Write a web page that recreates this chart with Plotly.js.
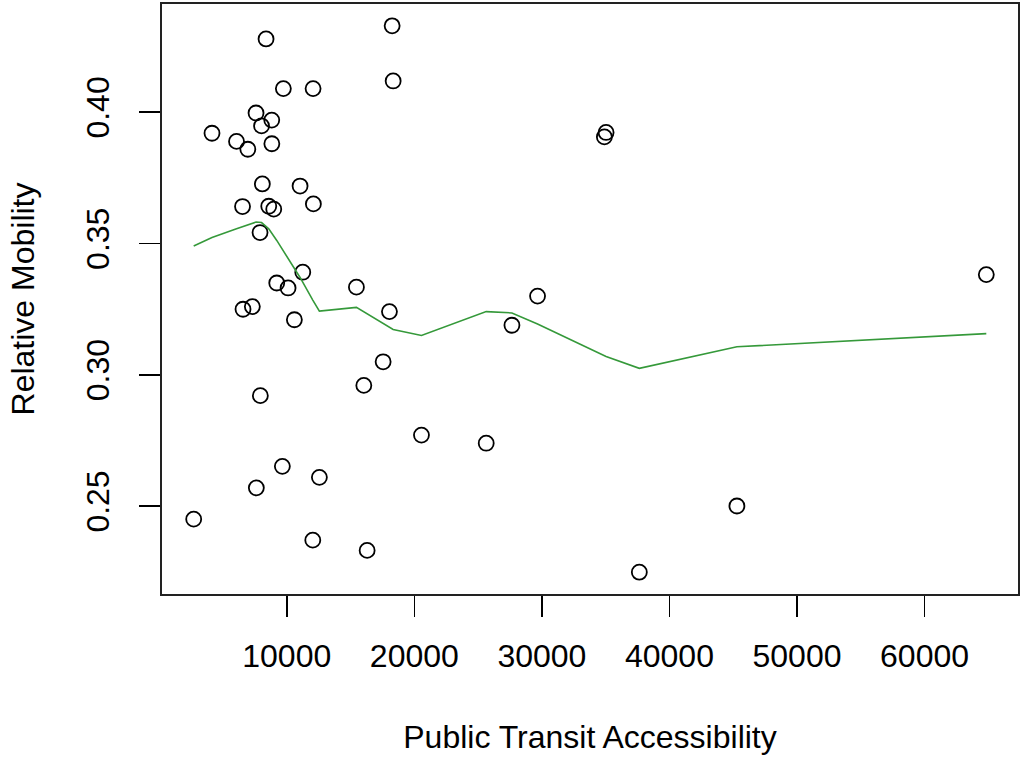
<!DOCTYPE html>
<html>
<head>
<meta charset="utf-8">
<script src="https://cdn.plot.ly/plotly-3.0.1.min.js"></script>
<style>html,body{margin:0;padding:0;background:#fff;}#chart{width:1021px;height:761px;}</style>
</head>
<body>
<div id="chart"></div>
<script>
// Scatter points: Public Transit Accessibility vs Relative Mobility
const transitAccess = [2704, 4139, 6061, 6532, 6571, 6948, 7301, 7591, 7615, 7905,
  8023, 7929, 8086, 8376, 8588, 8823, 8831, 8980, 9215, 9655,
  9733, 10102, 10596, 11043, 11255, 12040, 12063, 12087, 12558, 15461,
  16041, 16300, 17555, 18050, 18261, 18340, 20560, 25636, 27653, 29661,
  35033, 34900, 37640, 45290, 64841];
const relMobility = [0.2451, 0.3920, 0.3889, 0.3641, 0.3250, 0.3859, 0.3260, 0.3997, 0.2570, 0.3542,
  0.3948, 0.2921, 0.3727, 0.4279, 0.3642, 0.3970, 0.3880, 0.3631, 0.3350, 0.2652,
  0.4090, 0.3331, 0.3210, 0.3719, 0.3391, 0.2371, 0.4090, 0.3651, 0.2610, 0.3334,
  0.2960, 0.2332, 0.3050, 0.3241, 0.4329, 0.4119, 0.2771, 0.2740, 0.3189, 0.3300,
  0.3923, 0.3906, 0.2249, 0.2501, 0.3382];

// Smoothed trend line
const trendX = [2704, 4139, 6061, 6948, 7591, 8023, 8588, 9215, 10102, 11043,
  12040, 12558, 15461, 17555, 18340, 20560, 25636, 27653, 29661, 35033,
  37640, 45290, 64841];
const trendY = [0.3491, 0.3523, 0.3556, 0.3571, 0.3582, 0.3580, 0.3556, 0.3512, 0.3445, 0.3371,
  0.3285, 0.3243, 0.3257, 0.3198, 0.3173, 0.3150, 0.3241, 0.3236, 0.3194, 0.3070,
  0.3025, 0.3107, 0.3157];

const xTicks = [10000, 20000, 30000, 40000, 50000, 60000];
const xTickText = ['10000', '20000', '30000', '40000', '50000', '60000'];
const yTicks = [0.25, 0.30, 0.35, 0.40];
const yTickText = ['0.25', '0.30', '0.35', '0.40'];

const FONT = 'Liberation Sans, Arial, Helvetica, sans-serif';

const traces = [
  {
    x: transitAccess, y: relMobility, type: 'scatter', mode: 'markers',
    marker: {symbol: 'circle-open', size: 15, color: '#000', line: {width: 1.8, color: '#000'}},
    hoverinfo: 'none', showlegend: false
  },
  {
    x: trendX, y: trendY, type: 'scatter', mode: 'lines',
    line: {color: '#35993a', width: 1.6},
    hoverinfo: 'none', showlegend: false
  }
];

const layout = {
  width: 1021, height: 761,
  margin: {l: 162, r: 3, t: 4, b: 167},
  paper_bgcolor: '#fff', plot_bgcolor: '#fff',
  font: {family: FONT, size: 32, color: '#000'},
  showlegend: false,
  xaxis: {
    range: [219, 67326], autorange: false,
    tickmode: 'array', tickvals: xTicks, ticktext: xTickText,
    ticks: 'outside', ticklen: 21, tickwidth: 1.6, tickcolor: '#000',
    showline: true, mirror: true, linecolor: '#222', linewidth: 1.8,
    showgrid: false, zeroline: false,
    tickfont: {family: FONT, size: 32, color: '#000'},
    ticklabelstandoff: 12,
    title: {text: 'Public Transit Accessibility', font: {family: FONT, size: 32, color: '#000'}, standoff: 52},
    automargin: false
  },
  yaxis: {
    range: [0.2166, 0.4412], autorange: false,
    tickmode: 'array', tickvals: yTicks, ticktext: yTickText,
    ticks: 'outside', ticklen: 21, tickwidth: 1.6, tickcolor: '#000',
    tickangle: -90,
    showline: true, mirror: true, linecolor: '#222', linewidth: 1.8,
    showgrid: false, zeroline: false,
    tickfont: {family: FONT, size: 32, color: '#000'},
    ticklabelstandoff: 17,
    title: {text: 'Relative Mobility', font: {family: FONT, size: 32, color: '#000'}, standoff: 36},
    automargin: false
  }
};

Plotly.newPlot('chart', traces, layout, {displayModeBar: false, staticPlot: true});
</script>
</body>
</html>
